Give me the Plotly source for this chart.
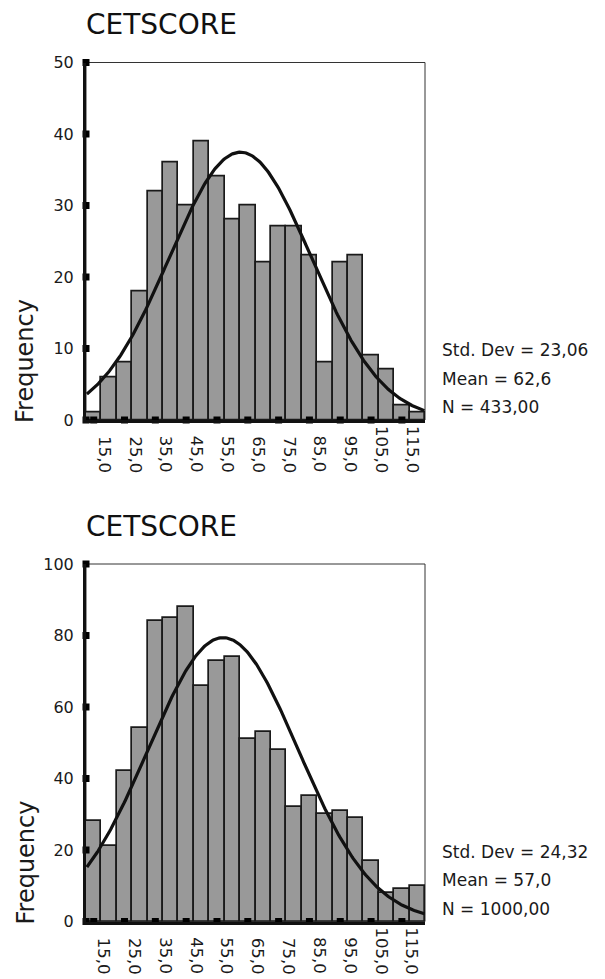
import numpy as np
import plotly.graph_objects as go

# ---------------- data ----------------
bin_centers = [15, 20, 25, 30, 35, 40, 45, 50, 55, 60, 65, 70, 75, 80, 85, 90, 95, 100, 105, 110, 115, 120]
counts_top = [1, 6, 8, 18, 32, 36, 30, 39, 34, 28, 30, 22, 27, 27, 23, 8, 22, 23, 9, 7, 2, 1]
counts_bottom = [28, 21, 42, 54, 84, 85, 88, 66, 73, 74, 51, 53, 48, 32, 35, 30, 31, 29, 17, 8, 9, 10]
x_tick_vals = [15, 25, 35, 45, 55, 65, 75, 85, 95, 105, 115]
x_tick_text = ["15,0", "25,0", "35,0", "45,0", "55,0", "65,0", "75,0", "85,0", "95,0", "105,0", "115,0"]
y_ticks_top = [0, 10, 20, 30, 40, 50]
y_ticks_bottom = [0, 20, 40, 60, 80, 100]
stats_top = {"mean": 62.6, "sd": 23.06, "n": "433,00", "sd_txt": "23,06", "mean_txt": "62,6"}
stats_bottom = {"mean": 57.0, "sd": 24.32, "n": "1000,00", "sd_txt": "24,32", "mean_txt": "57,0"}
title_text = "CETSCORE"
bin_width = 5

# ---------------- layout helpers ----------------
W, H = 605, 979
OFF = 8  # page body margin
def px_x(p):
    return (p - OFF) / W
def px_y(p):
    return 1 - (p - OFF) / H

X_RANGE = [12.5, 122.5]
left_px, right_px = 86, 425
panels = [
    dict(counts=counts_top, stats=stats_top, yticks=y_ticks_top, ymax=50, top=62.5, bottom=420, xa="x", ya="y"),
    dict(counts=counts_bottom, stats=stats_bottom, yticks=y_ticks_bottom, ymax=100, top=564, bottom=921.5, xa="x2", ya="y2"),
]

fig = go.Figure()
annotations = []
shapes = []
FONT = "DejaVu Sans"
TXT = "#1a1a1a"

for i, p in enumerate(panels):
    xa, ya = p["xa"], p["ya"]
    fig.add_trace(go.Bar(
        x=bin_centers, y=p["counts"], width=bin_width,
        marker=dict(color="#999999", line=dict(color="#1a1a1a", width=1.7)),
        xaxis=xa, yaxis=ya, showlegend=False, hoverinfo="skip"))
    st = p["stats"]
    xc = np.linspace(12.8, 122.3, 300)
    scale = sum(p["counts"]) * bin_width
    yc = scale / (st["sd"] * np.sqrt(2 * np.pi)) * np.exp(-0.5 * ((xc - st["mean"]) / st["sd"]) ** 2)
    fig.add_trace(go.Scatter(x=xc, y=yc, mode="lines", line=dict(color="#111111", width=3.2),
                             xaxis=xa, yaxis=ya, showlegend=False, hoverinfo="skip"))
    fig.add_trace(go.Scatter(x=x_tick_vals, y=[0] * len(x_tick_vals), mode="markers",
                             marker=dict(symbol="square", size=7, color="#000000"),
                             cliponaxis=False, xaxis=xa, yaxis=ya, showlegend=False, hoverinfo="skip"))
    fig.add_trace(go.Scatter(x=[X_RANGE[0]] * len(p["yticks"]), y=p["yticks"], mode="markers",
                             marker=dict(symbol="square", size=7, color="#000000"),
                             cliponaxis=False, xaxis=xa, yaxis=ya, showlegend=False, hoverinfo="skip"))

    xdom = [px_x(left_px), px_x(right_px)]
    ydom = [px_y(p["bottom"]), px_y(p["top"])]
    suffix = "" if i == 0 else "2"
    fig.update_layout(**{
        "xaxis" + suffix: dict(domain=xdom, range=X_RANGE, anchor=ya, showgrid=False, zeroline=False,
                              showline=True, linecolor="#111111", linewidth=3, showticklabels=False,
                              ticks="", fixedrange=True, automargin=False),
        "yaxis" + suffix: dict(domain=ydom, range=[0, p["ymax"]], anchor=xa, showgrid=False, zeroline=False,
                              showline=True, linecolor="#111111", linewidth=3, tickvals=p["yticks"],
                              ticks="outside", ticklen=6, tickcolor="rgba(0,0,0,0)",
                              tickfont=dict(family=FONT, size=16, color=TXT), fixedrange=True,
                              automargin=False),
    })
    shapes.append(dict(type="rect", xref=xa + " domain", yref=ya + " domain", x0=0, x1=1, y0=0, y1=1,
                       line=dict(color="#333333", width=1), layer="below"))
    annotations.append(dict(text=title_text, xref="paper", yref="paper", x=px_x(85), y=px_y(p["top"] - 20),
                            xanchor="left", yanchor="bottom", showarrow=False, borderpad=0,
                            font=dict(family=FONT, size=28, color="#111111")))
    annotations.append(dict(text="Frequency", xref="paper", yref="paper", x=px_x(25), y=px_y(p["bottom"] + 5),
                            xanchor="center", yanchor="bottom", textangle=-90, showarrow=False,
                            font=dict(family=FONT, size=24, color=TXT)))
    for v, t in zip(x_tick_vals, x_tick_text):
        annotations.append(dict(text=t, xref=xa, yref="paper", x=v, y=px_y(p["bottom"] + 55),
                                xanchor="left", yanchor="bottom", xshift=-1, textangle=90, showarrow=False,
                                font=dict(family=FONT, size=16.5, color=TXT)))
    lines = ["Std. Dev = " + st["sd_txt"], "Mean = " + st["mean_txt"], "N = " + st["n"]]
    for k, ln in enumerate(lines):
        annotations.append(dict(text=ln, xref="paper", yref="paper", x=px_x(440),
                                y=px_y(p["bottom"] - 70 + 28.5 * k),
                                xanchor="left", yanchor="middle", showarrow=False,
                                font=dict(family=FONT, size=17, color=TXT)))

fig.update_layout(
    width=W, height=H, autosize=False, margin=dict(l=0, r=0, t=0, b=0, pad=0),
    paper_bgcolor="white", plot_bgcolor="white",
    barmode="overlay", bargap=0,
    annotations=annotations, shapes=shapes,
    font=dict(family=FONT),
)

fig.write_html("out.html")
